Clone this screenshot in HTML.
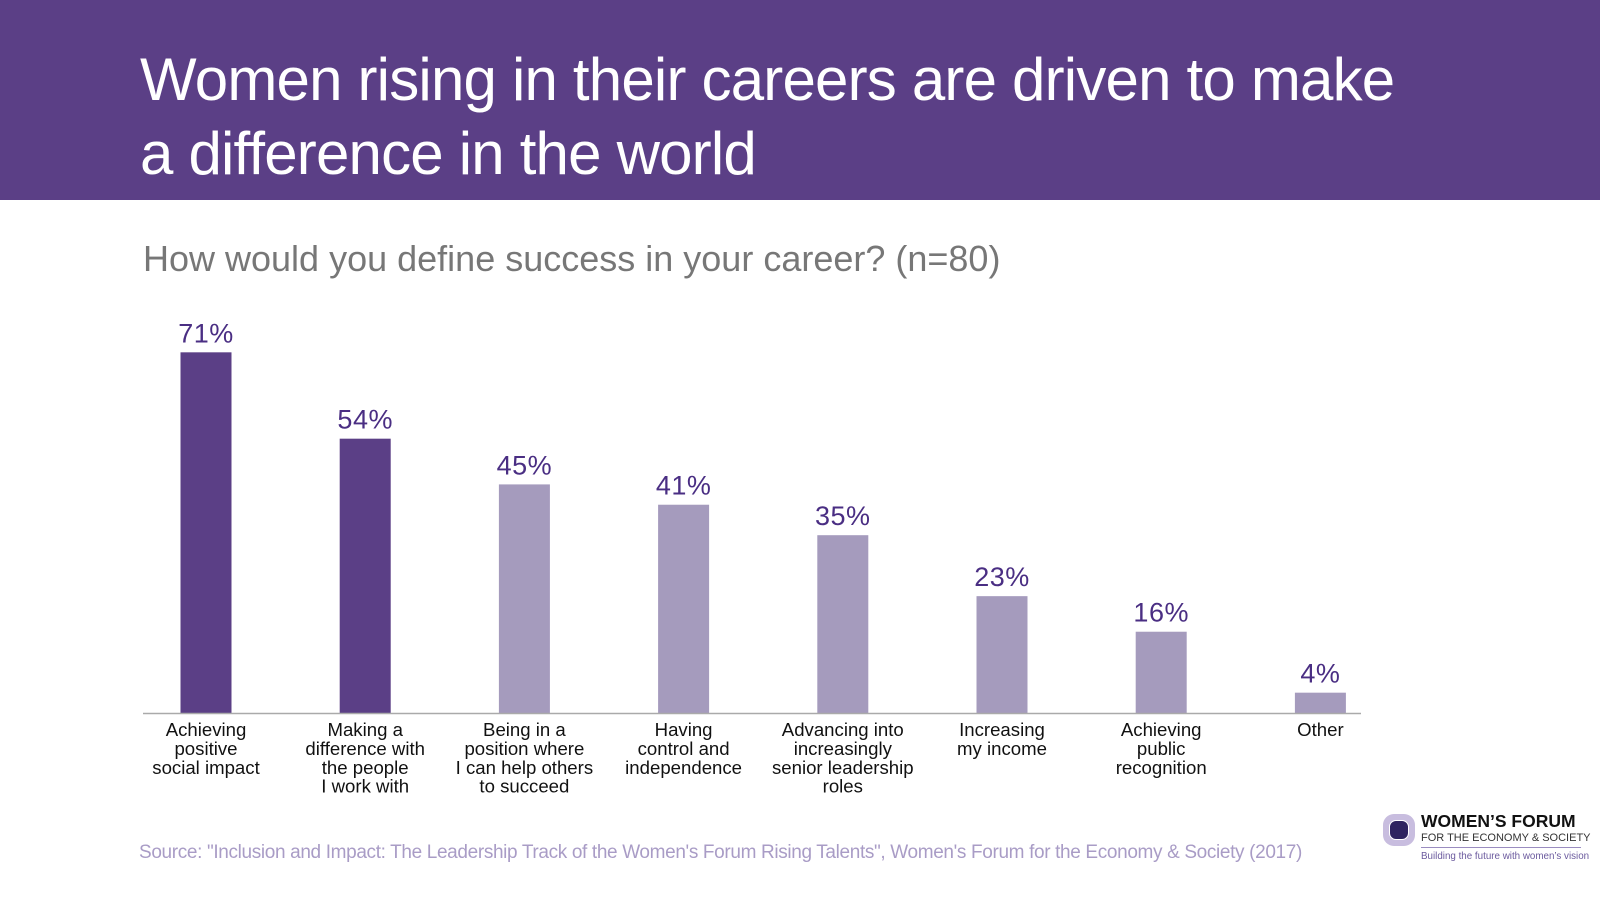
<!DOCTYPE html>
<html><head><meta charset="utf-8"><style>
body{margin:0;width:1600px;height:900px;background:#fff;font-family:"Liberation Sans",sans-serif;position:relative;overflow:hidden}
#hdr{position:absolute;left:0;top:0;width:1600px;height:200px;background:#5b3f86}
#title{position:absolute;left:140px;top:43px;color:#fff;font-size:60px;line-height:74px;font-weight:300;letter-spacing:-0.8px;white-space:nowrap}
#sub{position:absolute;left:143px;top:238px;color:#777;font-size:36px;white-space:nowrap}
#src{position:absolute;left:139px;top:842px;color:#a99cc6;font-size:19px;letter-spacing:-0.35px;white-space:nowrap}
</style></head><body>
<div id="hdr"></div>
<div id="title">Women rising in their careers are driven to make<br>a difference in the world</div>
<div id="sub">How would you define success in your career? (n=80)</div>
<svg id="chart" width="1600" height="900" style="position:absolute;left:0;top:0"></svg>
<div id="src">Source: "Inclusion and Impact: The Leadership Track of the Women's Forum Rising Talents", Women's Forum for the Economy &amp; Society (2017)</div>
<div style="position:absolute;left:1383px;top:812px;width:210px;height:56px">
 <div style="position:absolute;left:0;top:2px;width:32px;height:32px;border-radius:11px;background:#c8bddf"><div style="position:absolute;left:6px;top:6px;width:20px;height:20px;border-radius:7px;background:#2e2360;border:1px solid #fff;box-sizing:border-box"></div></div>
 <div style="position:absolute;left:38px;top:-1px;font-size:17.5px;font-weight:bold;color:#111;white-space:nowrap">WOMEN’S FORUM</div>
 <div style="position:absolute;left:38px;top:20px;font-size:11px;color:#333;white-space:nowrap">FOR THE ECONOMY &amp; SOCIETY</div>
 <div style="position:absolute;left:38px;top:35px;width:160px;border-top:1px solid #9a8cc0"></div>
 <div style="position:absolute;left:38px;top:39px;font-size:9.8px;color:#6b5a9e;white-space:nowrap">Building the future with women’s vision</div>
</div>
<script>
const categories=[["Achieving","positive","social impact"],["Making a","difference with","the people","I work with"],["Being in a","position where","I can help others","to succeed"],["Having","control and","independence"],["Advancing into","increasingly","senior leadership","roles"],["Increasing","my income"],["Achieving","public","recognition"],["Other"]];
const values=[71,54,45,41,35,23,16,4];
const highlighted=[true,true,false,false,false,false,false,false];
const NS="http://www.w3.org/2000/svg";
const svg=document.getElementById('chart');
const baseY=713,pxPer=5.08,x0=206,step=159.2,bw=51;
function xs(i){return x0+i*step;}
function ys(v){return baseY-v*pxPer;}
function mk(t,a){const e=document.createElementNS(NS,t);for(const k in a)e.setAttribute(k,a[k]);svg.appendChild(e);return e;}
values.forEach((v,i)=>{
 const r=mk('rect',{x:xs(i)-bw/2,y:ys(v),width:bw,height:baseY-ys(v),fill:highlighted[i]?'#5b3f86':'#a59bbd'});
 
 
 const t=mk('text',{x:xs(i),y:ys(v)-10,'text-anchor':'middle','font-size':27,fill:'#4a2e83','font-family':'Liberation Sans','letter-spacing':'0.5'});
 t.textContent=v+'%';
 
 
 categories[i].forEach((ln,j)=>{
  const c=mk('text',{x:xs(i),y:baseY+23+j*18.9,'text-anchor':'middle','font-size':18.6,fill:'#111','font-family':'Liberation Sans'});
  c.textContent=ln;
  
  
 });
});
const ax=mk('line',{x1:143,x2:1361,y1:baseY+0.5,y2:baseY+0.5,stroke:'#aaa','stroke-width':1.5});


</script>
</body></html>
